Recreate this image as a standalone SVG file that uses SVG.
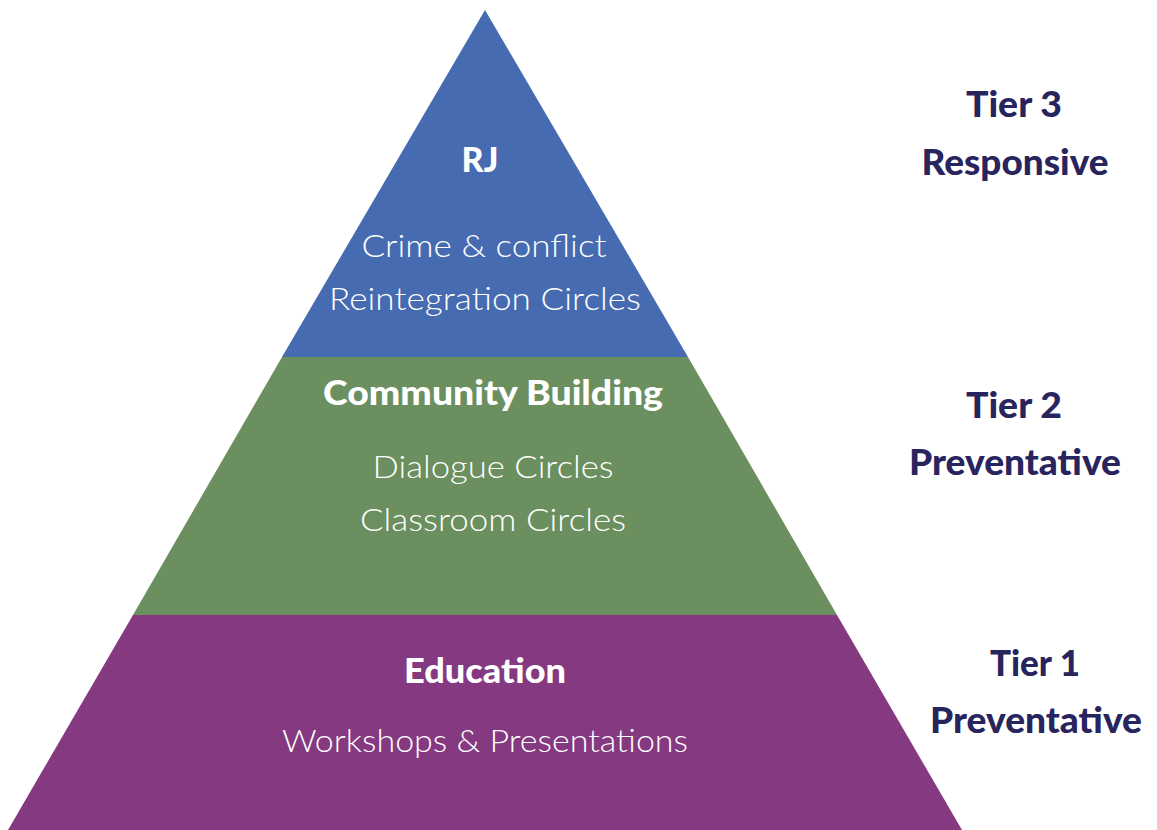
<svg xmlns="http://www.w3.org/2000/svg" width="1157" height="830" viewBox="0 0 1157 830">
<style>
.h{font-family:Lato,"Open Sans","Liberation Sans",sans-serif;font-weight:900;fill:#ffffff;text-anchor:middle}
.b{font-family:Lato,"Open Sans","Liberation Sans",sans-serif;font-weight:300;fill:#ffffff;text-anchor:middle}
.t{font-family:Lato,"Open Sans","Liberation Sans",sans-serif;font-weight:900;fill:#28245e;text-anchor:middle}
</style>
<rect width="1157" height="830" fill="#ffffff"/>
<g id="tier3">
<polygon points="485,10 688,357 282,357" fill="#466bb0"/>
<text class="h" x="480" y="172" font-size="34">RJ</text>
<text class="b" x="484" y="257" font-size="32" textLength="245" lengthAdjust="spacingAndGlyphs">Crime &amp; conflict</text>
<text class="b" x="485" y="310" font-size="32" textLength="312" lengthAdjust="spacingAndGlyphs">Reintegration Circles</text>
</g>
<g id="tier2">
<polygon points="282,357 688,357 837,615 133,615" fill="#6b8f5f"/>
<text class="h" x="493" y="405" font-size="34" textLength="340" lengthAdjust="spacingAndGlyphs">Community Building</text>
<text class="b" x="493" y="478" font-size="32" textLength="241" lengthAdjust="spacingAndGlyphs">Dialogue Circles</text>
<text class="b" x="493" y="531" font-size="32" textLength="266" lengthAdjust="spacingAndGlyphs">Classroom Circles</text>
</g>
<g id="tier1">
<polygon points="133,615 837,615 962,830 8,830" fill="#843980"/>
<text class="h" x="485" y="683" font-size="34" textLength="162" lengthAdjust="spacingAndGlyphs">Education</text>
<text class="b" x="485" y="752" font-size="32" textLength="406" lengthAdjust="spacingAndGlyphs">Workshops &amp; Presentations</text>
</g>
<g id="label3">
<text class="t" x="1014" y="117" font-size="36" textLength="96" lengthAdjust="spacingAndGlyphs">Tier 3</text>
<text class="t" x="1015" y="175" font-size="36" textLength="187" lengthAdjust="spacingAndGlyphs">Responsive</text>
</g>
<g id="label2">
<text class="t" x="1014" y="418" font-size="36" textLength="96" lengthAdjust="spacingAndGlyphs">Tier 2</text>
<text class="t" x="1015" y="475" font-size="36" textLength="212" lengthAdjust="spacingAndGlyphs">Preventative</text>
</g>
<g id="label1">
<text class="t" x="1035" y="676" font-size="36" textLength="90" lengthAdjust="spacingAndGlyphs">Tier 1</text>
<text class="t" x="1036" y="733" font-size="36" textLength="212" lengthAdjust="spacingAndGlyphs">Preventative</text>
</g>
<g id="connectors"/>
</svg>
